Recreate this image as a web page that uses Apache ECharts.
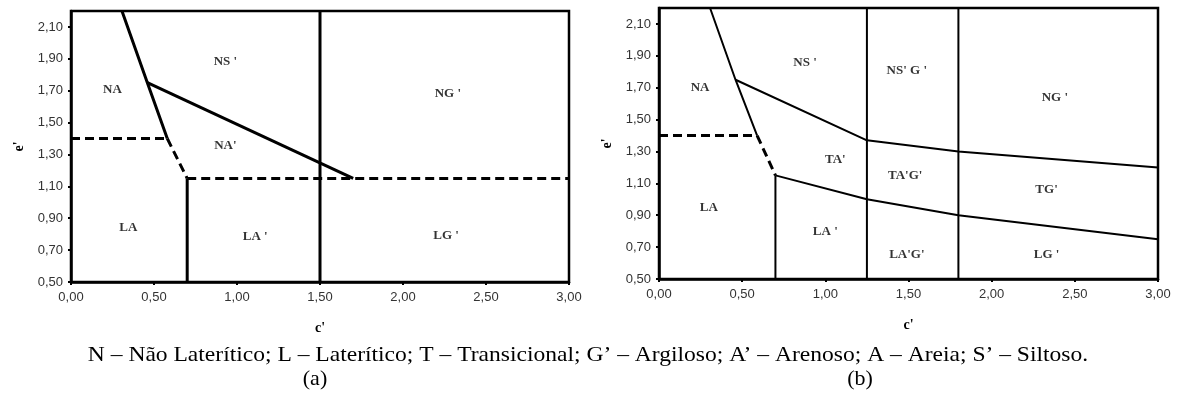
<!DOCTYPE html>
<html>
<head>
<meta charset="utf-8">
<script src="https://cdn.jsdelivr.net/npm/echarts@6/dist/echarts.min.js"></script>
<style>
  html, body { margin: 0; padding: 0; background: #fff; }
  #chart { width: 1178px; height: 406px; }
</style>
</head>
<body>
<div id="chart"></div>
<script>
// ── 轴刻度 ────────────────────────────────────────────────
const X_TICKS = [0, 0.5, 1, 1.5, 2, 2.5, 3]
const Y_TICKS = [0.5, 0.7, 0.9, 1.1, 1.3, 1.5, 1.7, 1.9, 2.1]
const Y_MAX = 2.2

// ── (a) 边界线 [c', e'] ──────────────────────────────────
const A_SOLID = [
  [[0.307, 2.2], [0.46, 1.75], [0.58, 1.40]],
  [[0.46, 1.75], [1.70, 1.15]],
  [[0.70, 0.5], [0.70, 1.15]],
  [[1.5, 0.5], [1.5, 2.2]],
]
const A_DASHED = [
  [[0.58, 1.40], [0.70, 1.15]],
  [[0, 1.40], [0.58, 1.40]],
  [[0.70, 1.15], [3.0, 1.15]],
]
const A_LABELS = [
  ['NA', 0.25, 1.705], ['NS \'', 0.93, 1.88], ['NA\'', 0.93, 1.357],
  ['NG \'', 2.27, 1.68], ['LA', 0.345, 0.84], ['LA \'', 1.11, 0.783],
  ['LG \'', 2.26, 0.793],
]

// ── (b) 边界线 [c', e'] ──────────────────────────────────
const B_SOLID = [
  [[0.307, 2.2], [0.46, 1.75], [0.59, 1.40]],
  [[0.46, 1.75], [1.25, 1.37], [1.80, 1.30], [3.0, 1.20]],
  [[0.70, 1.15], [1.25, 1.00], [1.80, 0.90], [3.0, 0.75]],
  [[0.70, 0.5], [0.70, 1.15]],
  [[1.25, 0.5], [1.25, 2.2]],
  [[1.80, 0.5], [1.80, 2.2]],
]
const B_DASHED = [
  [[0.59, 1.40], [0.70, 1.15]],
  [[0, 1.40], [0.59, 1.40]],
]
const B_LABELS = [
  ['NA', 0.247, 1.703], ['NS \'', 0.878, 1.86], ['TA\'', 1.06, 1.25],
  ['NS\' G \'', 1.49, 1.81], ['NG \'', 2.38, 1.64], ['TA\'G\'', 1.48, 1.15],
  ['TG\'', 2.33, 1.06], ['LA', 0.30, 0.945], ['LA \'', 1.0, 0.80],
  ['LA\'G\'', 1.49, 0.65], ['LG \'', 2.33, 0.65],
]

const CAPTION = 'N – Não Laterítico; L – Laterítico; T – Transicional; G’ – Argiloso; A’ – Arenoso; A – Areia; S’ – Siltoso.'
const PANEL_TAGS = ['(a)', '(b)']

// ── 工具 ────────────────────────────────────────────────
const fmt = v => v.toFixed(2).replace('.', ',')

function xAxisOpt(gi) {
  return {
    type: 'value', gridIndex: gi, min: X_TICKS[0], max: X_TICKS[X_TICKS.length - 1], interval: 0.5,
    name: 'c\'', nameLocation: 'middle', nameGap: 39,
    nameTextStyle: { fontFamily: 'Liberation Serif', fontWeight: 'bold', fontSize: 14, color: '#000' },
    axisLine: { show: true, onZero: false, lineStyle: { color: '#000', width: 2.5 } },
    axisTick: { show: true, length: 3, lineStyle: { color: '#000', width: 2 } },
    axisLabel: { formatter: fmt, color: '#333', fontFamily: 'Liberation Sans', fontSize: 13, margin: 9 },
    splitLine: { show: false },
  }
}

function yAxisOpt(gi) {
  return {
    type: 'value', gridIndex: gi, min: Y_TICKS[0], max: Y_MAX, interval: 0.2,
    name: 'e\'', nameLocation: 'middle', nameGap: 45, nameRotate: 90,
    nameTextStyle: { fontFamily: 'Liberation Serif', fontWeight: 'bold', fontSize: 14, color: '#000' },
    axisLine: { show: true, onZero: false, lineStyle: { color: '#000', width: 2.5 } },
    axisTick: { show: true, length: 3, lineStyle: { color: '#000', width: 2 } },
    axisLabel: { formatter: fmt, color: '#333', fontFamily: 'Liberation Sans', fontSize: 13, margin: 8, showMaxLabel: false },
    splitLine: { show: false },
  }
}

function lineSeries(segs, gi, width, dashed) {
  return segs.map(seg => ({
    type: 'line', xAxisIndex: gi, yAxisIndex: gi, data: seg,
    symbol: 'none', silent: true, animation: false,
    lineStyle: { color: '#000', width, type: dashed ? [9, 5] : 'solid' },
  }))
}

function labelSeries(labels, gi) {
  return {
    type: 'scatter', xAxisIndex: gi, yAxisIndex: gi, symbolSize: 0, silent: true, animation: false,
    data: labels.map(l => ({ value: [l[1], l[2]], name: l[0] })),
    label: {
      show: true, position: 'inside', formatter: '{b}',
      fontFamily: 'Liberation Serif', fontWeight: 'bold', fontSize: 13, color: '#000',
    },
  }
}

const captionFont = '22px "Liberation Serif"'

const chart = echarts.init(document.getElementById('chart'), null, { renderer: 'canvas' })
chart.setOption({
  backgroundColor: '#fff',
  animation: false,
  grid: [
    { left: 71, top: 11, width: 498, height: 271, show: true, borderColor: '#000', borderWidth: 2.5 },
    { left: 659, top: 8, width: 499, height: 271, show: true, borderColor: '#000', borderWidth: 2.5 },
  ],
  xAxis: [xAxisOpt(0), xAxisOpt(1)],
  yAxis: [yAxisOpt(0), yAxisOpt(1)],
  series: [
    ...lineSeries(A_SOLID, 0, 3, false),
    ...lineSeries(A_DASHED, 0, 3, true),
    ...lineSeries(B_SOLID, 1, 2, false),
    ...lineSeries(B_DASHED, 1, 3, true),
    labelSeries(A_LABELS, 0),
    labelSeries(B_LABELS, 1),
  ],
  graphic: [
    { type: 'text', x: 588, y: 344, scaleX: 1.07,
      style: { text: CAPTION, font: captionFont, fill: '#000', align: 'center' } },
    { type: 'text', x: 315, y: 368,
      style: { text: PANEL_TAGS[0], font: captionFont, fill: '#000', align: 'center' } },
    { type: 'text', x: 860, y: 368,
      style: { text: PANEL_TAGS[1], font: captionFont, fill: '#000', align: 'center' } },
  ],
})
</script>
</body>
</html>
